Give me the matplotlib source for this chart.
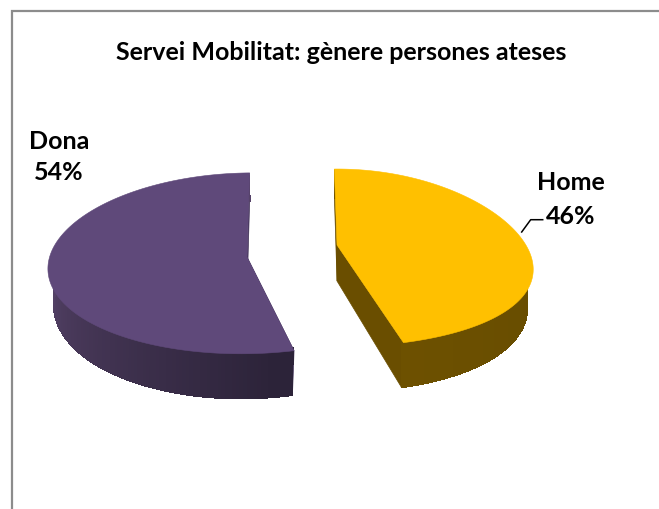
import numpy as np
import matplotlib
matplotlib.use("Agg")
import matplotlib.pyplot as plt
from matplotlib.patches import Polygon
from matplotlib.colors import to_rgb

title = "Servei Mobilitat: gènere persones ateses"
categories = ["Home", "Dona"]
values = [46, 54]
top_colors = ["#FFC000", "#5F497A"]

W, H = 659, 510
fig = plt.figure(figsize=(W / 100, H / 100), dpi=100)
ax = fig.add_axes([0, 0, 1, 1])
ax.set_xlim(0, W)
ax.set_ylim(H, 0)
ax.axis("off")
plt.rcParams["font.family"] = ["Lato", "DejaVu Sans"]

# projection of each exploded slice: apex, radii, perspective, shear, side sag
proj = {
    "Home": dict(x0=337, y0=246, a=190, b=87, ky=0.145, kx=0.25, sh=0, ey=2),
    "Dona": dict(x0=247, y0=258, a=199, b=90, ky=0.07, kx=0.0, sh=6, ey=9),
}
DEPTH, BASE_A, BASE_B = 36, 0.97, 1.09
START = -1.0


def project(theta, p, base=False):
    t = np.radians(theta)
    u, v = np.sin(t), np.cos(t)
    a = p["a"] * (BASE_A if base else 1)
    b = p["b"] * (BASE_B if base else 1)
    x = p["x0"] + a * u / (1 + p["kx"] * v) + p["sh"] * v
    y = p["y0"] + (DEPTH if base else 0) - b * v / (1 + p["ky"] * v) + p["ey"] * u ** 2
    return x, y


def mix(c1, c2, f):
    c1, c2 = np.array(to_rgb(c1)), np.array(to_rgb(c2))
    return tuple(c1 + (c2 - c1) * f)


def side_color(name, theta):
    if name == "Home":
        return mix("#6F5200", "#684D00", min(1, abs(np.sin(np.radians(theta)))))
    f = np.clip((theta - 170) / 110, 0, 1)
    return mix("#2C2339", "#564369", f)


total = sum(values)
angle = START
for name, value, color in zip(categories, values, top_colors):
    p = proj[name]
    sweep = 360 * value / total
    th = np.linspace(angle, angle + sweep, 181)
    tx, ty = project(th, p)
    bx, by = project(th, p, base=True)
    ax0, ay0 = p["x0"], p["y0"]
    ix, iy = ax0 + (tx - ax0) * 0.97, ay0 + (ty - ay0) * 0.97
    # cut faces
    edge = "#6A4E00" if name == "Home" else "#43345A"
    for i in (0, -1):
        ax.add_patch(Polygon([(ax0, ay0), (tx[i], ty[i]), (bx[i], by[i]), (ax0, ay0 + DEPTH)],
                             fc=edge, ec=edge, lw=0.5, zorder=2))
    # curved side, shaded along the arc; its upper edge is tucked under the top face
    for i in range(len(th) - 1):
        c = side_color(name, th[i])
        ax.add_patch(Polygon([(ix[i], iy[i]), (ix[i + 1], iy[i + 1]), (bx[i + 1], by[i + 1]), (bx[i], by[i])],
                             fc=c, ec=c, lw=0.6, antialiased=False, zorder=3))
    # top face
    ax.add_patch(Polygon(np.r_[[[ax0, ay0]], np.c_[tx, ty]], fc=color, ec=color, lw=0.4, zorder=4))
    angle += sweep

# chart frame: top and left edges only are inside the picture
ax.plot([11.5, 11.5, W], [H, 11.5, 11.5], color="#8C8C8C", lw=1.6, zorder=1, solid_joinstyle="miter")

ax.text(341, 53, title, ha="center", va="center", fontsize=18, fontweight="bold", color="black")
pct = [round(100 * v / total) for v in values]
ax.text(571, 199.5, f"{categories[0]}\n{pct[0]}%", ha="center", va="center", fontsize=18,
        fontweight="bold", linespacing=1.55, color="black")
ax.text(59, 157, f"{categories[1]}\n{pct[1]}%", ha="center", va="center", fontsize=18,
        fontweight="bold", linespacing=1.4, color="black")
ax.plot([521.7, 530.7, 542.7], [233, 220.7, 220.7], color="black", lw=1.1, zorder=5)

fig.savefig("out.png", dpi=100)
